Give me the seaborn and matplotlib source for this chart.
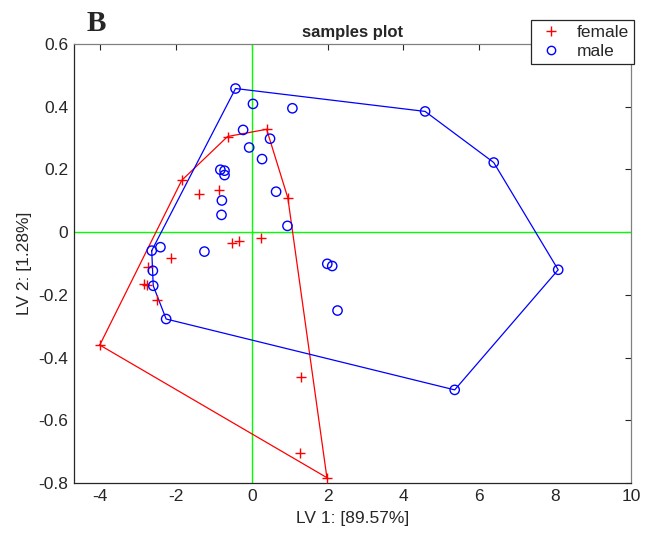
import matplotlib
matplotlib.use("Agg")
import matplotlib.pyplot as plt
import seaborn as sns
from matplotlib.lines import Line2D

# === DONNÉES ===
female_x = [0.39, -0.64, -1.85, -1.40, -0.86, 0.95, -0.52, -0.33, 0.25, -2.12,
            -2.74, -2.85, -2.76, -2.50, -4.01, 1.29, 1.28, 1.98]
female_y = [0.328, 0.305, 0.165, 0.123, 0.135, 0.109, -0.035, -0.029, -0.019, -0.084,
            -0.111, -0.165, -0.170, -0.217, -0.360, -0.462, -0.705, -0.783]

male_x = [-0.43, 0.03, 1.07, -0.23, 0.48, -0.07, 0.27, -0.83, -0.72, -0.72,
          0.64, -0.79, -0.80, 0.94, -2.41, -2.64, -1.25, -2.61, -2.60, -2.26,
          2.26, 4.57, 6.38, 8.08, 5.35, 1.99, 2.12]
male_y = [0.458, 0.409, 0.395, 0.326, 0.298, 0.270, 0.233, 0.199, 0.196, 0.182,
          0.129, 0.101, 0.055, 0.020, -0.048, -0.059, -0.062, -0.123, -0.171, -0.277,
          -0.250, 0.385, 0.222, -0.120, -0.503, -0.101, -0.108]

groups = ["female", "male"]
colors = {"female": "red", "male": "blue"}
x_label = "LV 1: [89.57%]"
y_label = "LV 2: [1.28%]"
x_ticks = [-4, -2, 0, 2, 4, 6, 8, 10]
y_ticks = [-0.8, -0.6, -0.4, -0.2, 0, 0.2, 0.4, 0.6]


def convex_hull(xs, ys):
    pts = sorted(set(zip(xs, ys)))

    def cross(o, a, b):
        return (a[0] - o[0]) * (b[1] - o[1]) - (a[1] - o[1]) * (b[0] - o[0])

    lower, upper = [], []
    for p in pts:
        while len(lower) >= 2 and cross(lower[-2], lower[-1], p) <= 0:
            lower.pop()
        lower.append(p)
    for p in reversed(pts):
        while len(upper) >= 2 and cross(upper[-2], upper[-1], p) <= 0:
            upper.pop()
        upper.append(p)
    hull = lower[:-1] + upper[:-1]
    hull.append(hull[0])
    return [p[0] for p in hull], [p[1] for p in hull]


# === FIGURE ===
sns.set_style("white")
plt.rcParams["font.family"] = ["Liberation Sans", "DejaVu Sans"]

fig = plt.figure(figsize=(6.53, 5.40), dpi=100)
ax = fig.add_axes([74 / 653, 57 / 540, 557 / 653, 439 / 540])

# axes de référence
ax.axvline(0, color="#00ff00", lw=1, zorder=1)
ax.axhline(0, color="#00ff00", lw=1, zorder=1)

# enveloppes convexes
hx, hy = convex_hull(female_x, female_y)
sns.lineplot(x=hx, y=hy, sort=False, estimator=None, color="red", lw=0.9, ax=ax)
hx, hy = convex_hull(male_x, male_y)
sns.lineplot(x=hx, y=hy, sort=False, estimator=None, color="blue", lw=0.9, ax=ax)

# points
sns.scatterplot(x=female_x, y=female_y, marker="+", color="red", s=45,
                linewidth=1, ax=ax, zorder=3)
sns.scatterplot(x=male_x, y=male_y, marker="o", s=45, facecolor="none",
                edgecolor="blue", linewidth=1, ax=ax, zorder=3)

ax.set_xlim(-4.69, 10)
ax.set_ylim(-0.8, 0.6)
ax.set_xticks(x_ticks)
ax.set_yticks(y_ticks)
ax.set_xticklabels([str(t) for t in x_ticks])
ax.set_yticklabels(["-0.8", "-0.6", "-0.4", "-0.2", "0", "0.2", "0.4", "0.6"])
ax.tick_params(direction="in", length=4, width=0.8, top=True, right=True,
               labelsize=12.5, colors="#262626", pad=4)
for side in ["left", "bottom"]:
    ax.spines[side].set_color("#262626")
for side in ["top", "right"]:
    ax.spines[side].set_color("#808080")
for s in ax.spines.values():
    s.set_linewidth(0.9)

ax.set_xlabel(x_label, fontsize=12.5, color="#262626", labelpad=5)
ax.set_ylabel(y_label, fontsize=12.5, color="#262626", labelpad=5)
ax.set_title("samples plot", fontsize=12, fontweight="bold", pad=5)

fig.text(87 / 653, 1 - 31 / 540, "B", fontsize=21, fontweight="bold",
         family="Liberation Serif")

handles = [Line2D([], [], ls="none", marker="+", color=colors["female"], ms=7),
           Line2D([], [], ls="none", marker="o", mfc="none", mec=colors["male"], ms=6)]
leg = fig.legend(handles, groups, loc="upper right",
                 bbox_to_anchor=(634 / 653, 1 - 20 / 540), borderaxespad=0,
                 fancybox=False, framealpha=1, edgecolor="#262626",
                 fontsize=12.5, handlelength=1.7, handletextpad=0.6,
                 labelspacing=0.2, borderpad=0.3)
leg.get_frame().set_linewidth(0.9)

fig.savefig("out.png", dpi=100)
